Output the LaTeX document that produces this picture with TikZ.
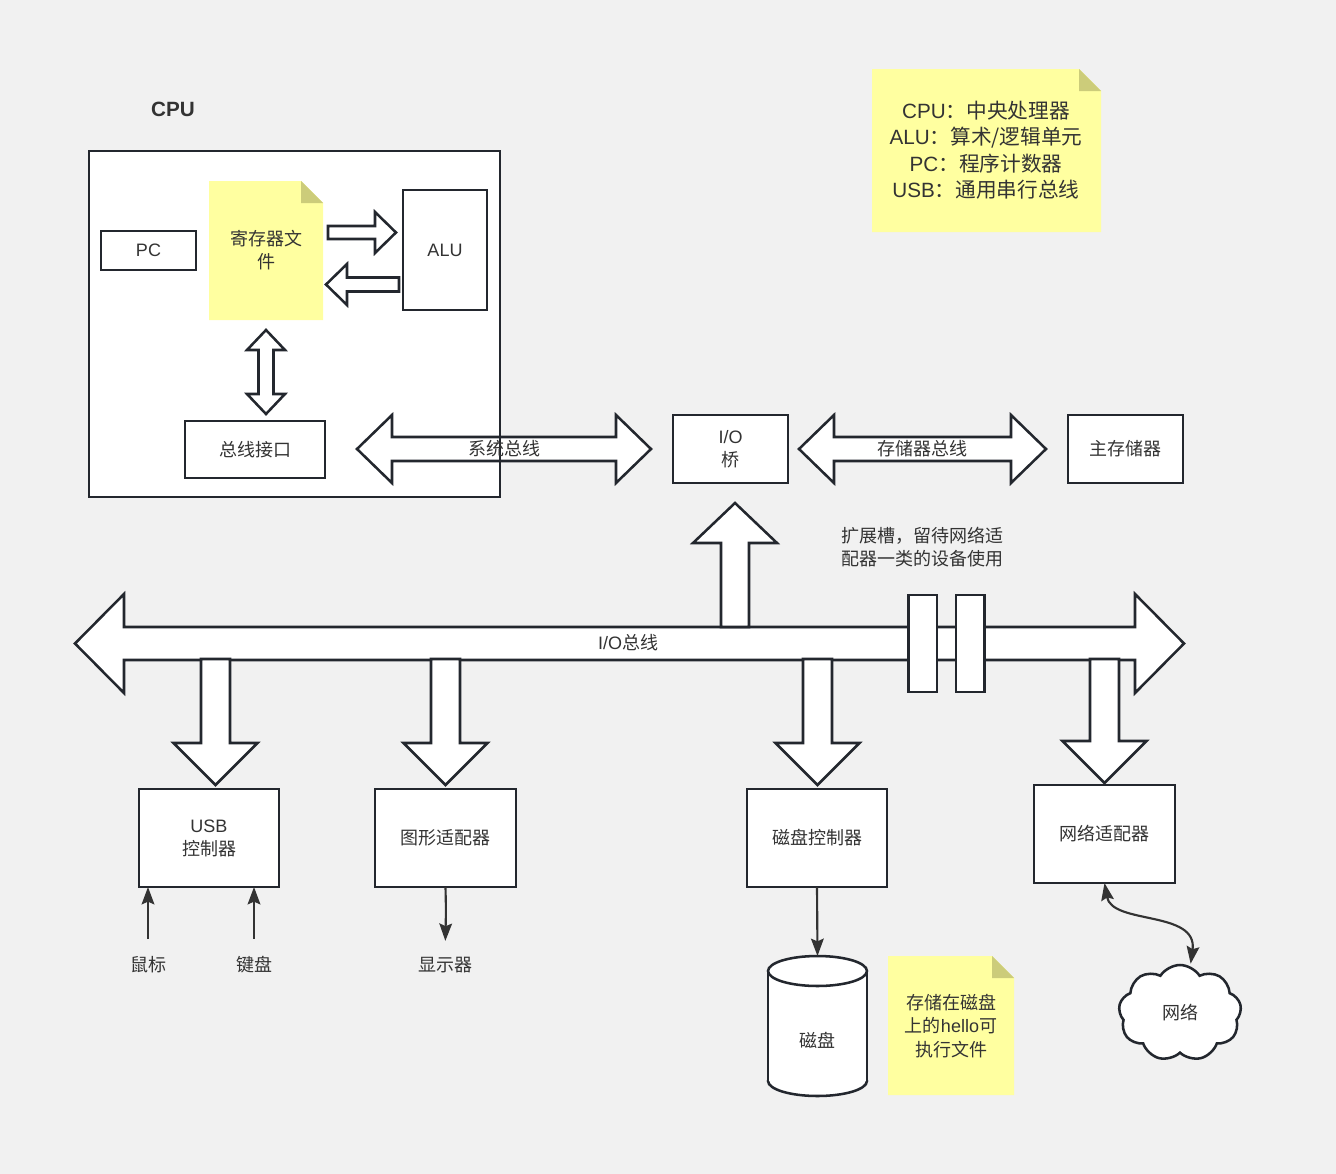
\documentclass[tikz,border=0pt]{standalone}
\usepackage{fontspec}
\setmainfont{Noto Sans CJK SC}
\newfontfamily\lat{Liberation Sans}
\usetikzlibrary{shapes.symbols,arrows.meta}
\definecolor{lc}{HTML}{23272E}
\definecolor{tc}{HTML}{333333}
\definecolor{notey}{HTML}{FFFFA0}
\definecolor{notef}{HTML}{CCCC7A}
\definecolor{bgc}{HTML}{F1F1F1}
\newcommand{\myfs}{\fontsize{13.5}{17.2}\selectfont}
\newcommand{\hdarrow}[6]{\draw[blk] (#1,#3) -- (#1+#6,#3-#5) -- (#1+#6,#3-#4) -- (#2-#6,#3-#4) -- (#2-#6,#3-#5) -- (#2,#3) -- (#2-#6,#3+#5) -- (#2-#6,#3+#4) -- (#1+#6,#3+#4) -- (#1+#6,#3+#5) -- cycle;}
\newcommand{\vdarrow}[6]{\draw[blk] (#1,#2) -- (#1+#5,#2+#6) -- (#1+#4,#2+#6) -- (#1+#4,#3-#6) -- (#1+#5,#3-#6) -- (#1,#3) -- (#1-#5,#3-#6) -- (#1-#4,#3-#6) -- (#1-#4,#2+#6) -- (#1-#5,#2+#6) -- cycle;}
\newcommand{\vdown}[6]{\draw[blk] (#1-#4,#2) -- (#1+#4,#2) -- (#1+#4,#3-#6) -- (#1+#5,#3-#6) -- (#1,#3) -- (#1-#5,#3-#6) -- (#1-#4,#3-#6) -- cycle;}
\newcommand{\notebg}[5]{\fill[notey] (#1,#2) -- (#3-#5,#2) -- (#3,#2+#5) -- (#3,#4) -- (#1,#4) -- cycle;
  \fill[notef] (#3-#5,#2) -- (#3-#5,#2+#5) -- (#3,#2+#5) -- cycle;}
% box node from pixel corners: [style]{name}{x1}{y1}{x2}{y2}{text}
\newcommand{\bx}[7][box]{\node[#1, minimum width={(#5-#3)*0.75pt}, minimum height={(#6-#4)*0.75pt}] (#2) at ({(#3+#5)/2},{(#4+#6)/2}) {#7};}
\begin{document}
\begin{tikzpicture}[x=0.75pt,y=-0.75pt,
  box/.style={draw=lc,line width=1.9pt,fill=white,inner sep=0pt,outer sep=0pt,text=tc,align=center,font=\myfs},
  blk/.style={draw=lc,line width=1.9pt,fill=white,line join=miter,miter limit=10},
  lbl/.style={text=tc,align=center,inner sep=0pt,font=\myfs},
  ghost/.style={inner sep=0pt,outer sep=0pt,text=tc,align=center,font=\myfs},
  conn/.style={draw=tc,line width=1.6pt,-{Stealth[length=13pt,width=9.5pt,inset=2pt]}},
  dconn/.style={draw=tc,line width=1.6pt,{Stealth[length=13pt,width=9.5pt,inset=2pt]}-{Stealth[length=13pt,width=9.5pt,inset=2pt]}}]
\fill[bgc] (0,0) rectangle (1336,1174);
\useasboundingbox (0,0) rectangle (1336,1174);

% CPU container
\node[text=tc,font=\lat\bfseries\fontsize{15.5}{18}\selectfont,inner sep=0pt] (cpulbl) at (173,109) {CPU};
\fill[white] (89,151) rectangle (500,497);
\bx{pc}{101}{231}{196}{270}{{\lat PC}}
\notebg{209}{181}{323}{320}{22}
\bx[ghost]{reg}{209}{181}{323}{320}{寄存器文\\件}
\bx{alu}{403}{190}{487}{310}{{\lat ALU}}
\draw[blk] (328,226) -- (375,226) -- (375,212) -- (396,232.5) -- (375,253) -- (375,239) -- (328,239) -- cycle;
\draw[blk] (399,277.5) -- (347,277.5) -- (347,264) -- (326,284.5) -- (347,305) -- (347,291.5) -- (399,291.5) -- cycle;
\vdarrow{266}{330}{414}{7.5}{19}{20}
\bx{bif}{185}{421}{325}{478}{总线接口}
% system bus
\hdarrow{357}{651}{449}{12}{34}{35}
\draw[draw=lc,line width=1.9pt] (89,151) rectangle (500,497);
\node[lbl] (sbus) at (504,449) {系统总线};

% IO bridge, memory
\bx{iob}{673}{415}{788}{483}{{\lat I/O}\\桥}
\hdarrow{799}{1046}{449}{12}{34}{35}
\node[lbl] (mbus) at (922,449) {存储器总线};
\bx{mem}{1068}{415}{1183}{483}{主存储器}

% top-right note
\notebg{872}{69}{1101}{232}{22}
\node[ghost, font=\fontsize{15.5}{19.9}\selectfont] (legend) at (986,150) {{\lat CPU}：中央处理器\\{\lat ALU}：算术/逻辑单元\\{\lat PC}：程序计数器\\{\lat USB}：通用串行总线};

% IO bus
\hdarrow{75}{1184}{643.5}{16.5}{49.5}{49}
\draw[blk] (721,627) -- (721,543) -- (693,543) -- (735,503) -- (777,543) -- (749,543) -- (749,627) -- cycle;
\vdown{215.5}{659}{785}{14.5}{42}{42}
\vdown{445.5}{659}{785}{14.5}{42}{42}
\vdown{817.5}{659}{785}{14.5}{42}{42}
\vdown{1104.5}{659}{783}{14.5}{42}{42}
\draw[blk] (908.5,595) rectangle (937,692);
\draw[blk] (956,595) rectangle (984.5,692);
\node[lbl] (iobus) at (628,643) {{\lat I/O}总线};
\node[lbl, align=left] (slot) at (922,547) {扩展槽，留待网络适\\配器一类的设备使用};

% devices
\bx{usb}{139}{789}{279}{887}{{\lat USB}\\控制器}
\bx{gfx}{375}{789}{516}{887}{图形适配器}
\bx{dctl}{747}{789}{887}{887}{磁盘控制器}
\bx{nic}{1034}{785}{1175}{883}{网络适配器}

\node[lbl] (mouse) at (148,965) {鼠标};
\node[lbl] (kbd) at (254,965) {键盘};
\node[lbl] (disp) at (445,965) {显示器};

\draw[conn, shorten <=13pt] (mouse.north) .. controls (148,915) .. (mouse.north |- usb.south);
\draw[conn, shorten <=13pt] (kbd.north) .. controls (254,915) .. (kbd.north |- usb.south);
\draw[conn, shorten >=12pt] (gfx.south) .. controls (446,910) .. (disp.north);

% disk cylinder
\bx[ghost]{disk}{768}{956}{867}{1096}{}
\draw[blk] (817.5,1081) ellipse [x radius=37.1pt, y radius=11.25pt];
\fill[white] (768,971) rectangle (867,1081);
\draw[draw=lc,line width=1.9pt] (768,971) -- (768,1081) (867,971) -- (867,1081);
\draw[blk] (817.5,971) ellipse [x radius=37.1pt, y radius=11.25pt];
\node[lbl] (disktxt) at (817,1040) {磁盘};
\draw[conn] (dctl.south) -- (disk.north);

% bottom note
\notebg{888}{956}{1014}{1095}{22}
\node[ghost, font=\fontsize{13.5}{17.6}\selectfont] (hello) at (951,1026) {存储在磁盘\\上的{\lat hello}可\\执行文件};

% network cloud
\node[cloud, draw=lc, fill=white, line width=1.9pt, cloud puffs=9, cloud puff arc=115, aspect=1.3, minimum width=92pt, minimum height=72pt, inner sep=0pt, text=tc, font=\myfs] (net) at (1180,1013) {网络};
\draw[dconn] (nic.south) .. controls (1112,925) and (1198,910) .. ([xshift=8pt]net.north);
\end{tikzpicture}
\end{document}
